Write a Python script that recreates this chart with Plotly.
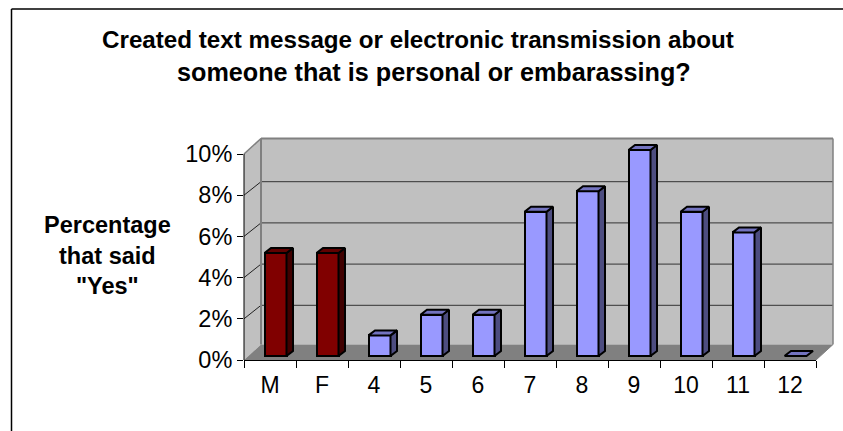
import plotly.graph_objects as go

categories = ["M", "F", "4", "5", "6", "7", "8", "9", "10", "11", "12"]
values = [5, 5, 1, 2, 2, 7, 8, 10, 7, 6, 0]
groups = ["sex", "sex"] + ["grade"] * 9
y_ticks = [0, 2, 4, 6, 8, 10]

FRONT = {"sex": "#800000", "grade": "#9999ff"}
SIDE = {"sex": "#400000", "grade": "#4d4d80"}
TOP = {"sex": "#600000", "grade": "#7373bf"}

W, H = 843, 431
L, R, T, B = 244, 816, 154, 360
HEAD = 24  # spare pixels above the 10% level so the tallest bar's top face is not clipped
PW, PH = R - L, B - (T - HEAD)
UX, UY = PW / 11, (B - T) / 10
Y_MAX = PH / UY

# depth of the chart box and of the bars, in pixels
WALL_DX, WALL_DY = 17, 15.5
GRID_DY = 13.5
BAR_DX, BAR_DY = 6.5, 5
BAR_W = 22 / UX
BAR_SHIFT = 5.5 / UX
BAR_BASE = 4 / UY
EDGE = 2


def fx(px):
    return (px - L) / PW


def fy(py):
    return (B - py) / PH


def poly(points):
    return "M" + "L".join(f"{fx(a):.5f},{fy(b):.5f}" for a, b in points) + "Z"


shapes = []


def add_poly(points, fill):
    shapes.append(dict(type="path", xref="paper", yref="paper", layer="below", path=poly(points),
                       fillcolor=fill, line=dict(color=fill, width=0)))


def add_line(x0, y0, x1, y1, color, width=1):
    shapes.append(dict(type="line", xref="paper", yref="paper", layer="below",
                       x0=fx(x0), y0=fy(y0), x1=fx(x1), y1=fy(y1), line=dict(color=color, width=width)))


# left wall, back wall, floor
add_poly([(L, T), (L + WALL_DX, T - WALL_DY), (L + WALL_DX, B - WALL_DY), (L, B)], "#c0c0c0")
add_poly([(L + WALL_DX, T - WALL_DY), (R + WALL_DX, T - WALL_DY), (R + WALL_DX, B - WALL_DY), (L + WALL_DX, B - WALL_DY)], "#c0c0c0")
add_poly([(L, B), (L + WALL_DX, B - WALL_DY), (R + WALL_DX, B - WALL_DY), (R, B)], "#808080")
for v in y_ticks[1:-1]:
    yy = B - v * UY
    add_line(L, yy, L + WALL_DX, yy - GRID_DY, "#222222", 1)
    add_line(L + WALL_DX, yy - GRID_DY, R + WALL_DX, yy - GRID_DY, "#333333", 1)
add_line(L, T, L + WALL_DX, T - WALL_DY, "#808080", 1.5)
add_line(L + WALL_DX, T - WALL_DY, R + WALL_DX, T - WALL_DY, "#808080", 2)
add_line(L + WALL_DX, T - WALL_DY, L + WALL_DX, B - WALL_DY, "#808080", 2)
add_line(R + WALL_DX, T - WALL_DY, R + WALL_DX, B - WALL_DY, "#808080", 1.5)
add_line(R, B, R + WALL_DX, B - WALL_DY, "#808080", 1)
# value axis line, stopping at the 10% level
add_line(L, T, L, B, "#000000", 1)

# outer frame
add_line(11.5, 9, W + 2, 9, "#000000", 1.5)
add_line(11.5, 9, 11.5, H + 2, "#000000", 1.5)

fig = go.Figure()

xs = list(range(len(categories)))
fig.add_trace(go.Bar(
    x=xs, y=values, base=BAR_BASE, width=BAR_W, offset=BAR_SHIFT - BAR_W / 2,
    marker=dict(color=[FRONT[g] for g in groups], line=dict(color="#000000", width=EDGE)),
    hoverinfo="skip", cliponaxis=False, showlegend=False,
))

dx, dy = BAR_DX / UX, BAR_DY / UY
for x, v, g in zip(xs, values, groups):
    x0 = x + BAR_SHIFT - BAR_W / 2
    x1 = x0 + BAR_W
    y0, y1 = BAR_BASE, BAR_BASE + v
    if v > 0:
        fig.add_trace(go.Scatter(
            x=[x1, x1 + dx, x1 + dx, x1, x1], y=[y0, y0 + dy, y1 + dy, y1, y0],
            mode="lines", fill="toself", fillcolor=SIDE[g], line=dict(color="#000000", width=EDGE),
            hoverinfo="skip", showlegend=False))
    fig.add_trace(go.Scatter(
        x=[x0, x0 + dx, x1 + dx, x1, x0], y=[y1, y1 + dy, y1 + dy, y1, y1],
        mode="lines", fill="toself", fillcolor=TOP[g], line=dict(color="#000000", width=EDGE),
        hoverinfo="skip", showlegend=False))

FONT = "Liberation Sans, Arial, sans-serif"
fig.update_layout(
    width=W, height=H, autosize=False,
    margin=dict(l=L, r=W - R, t=T - HEAD, b=H - B, pad=0),
    paper_bgcolor="#ffffff", plot_bgcolor="rgba(0,0,0,0)",
    font=dict(family=FONT, size=18, color="#000000"),
    shapes=shapes, showlegend=False, bargap=0,
    annotations=[
        dict(xref="paper", yref="paper", x=fx(418), y=fy(39), xanchor="center", yanchor="middle",
             text="<b>Created text message or electronic transmission about</b>", showarrow=False,
             font=dict(family=FONT, size=24.2)),
        dict(xref="paper", yref="paper", x=fx(434), y=fy(72), xanchor="center", yanchor="middle",
             text="<b>someone that is personal or embarassing?</b>", showarrow=False,
             font=dict(family=FONT, size=25.2)),
        dict(xref="paper", yref="paper", x=fx(107), y=fy(255), xanchor="center", yanchor="middle",
             text='<b>Percentage<br>that said<br>"Yes"</b>', showarrow=False, align="center",
             font=dict(family=FONT, size=23.5)),
    ],
    xaxis=dict(
        range=[-0.5, 10.5], tickmode="array", tickvals=xs, ticktext=categories,
        ticks="outside", ticklen=4, tickcolor="rgba(0,0,0,0)", showgrid=False, zeroline=False,
        showline=True, linecolor="#000000", linewidth=1,
        tickfont=dict(size=23),
        minor=dict(tickmode="array", tickvals=[x - 0.5 for x in xs] + [10.5], ticks="outside",
                   ticklen=7, tickcolor="#000000", tickwidth=1, showgrid=False),
    ),
    yaxis=dict(
        range=[0, Y_MAX], tickmode="array", tickvals=y_ticks, ticktext=[f"{v}%" for v in y_ticks],
        ticks="outside", ticklen=6, tickcolor="#000000", tickwidth=1, showgrid=False, zeroline=False,
        showline=False, tickfont=dict(size=23.5),
    ),
)

fig.write_html("out.html", config={"displayModeBar": False},
               post_script="document.body.style.margin='0';")
